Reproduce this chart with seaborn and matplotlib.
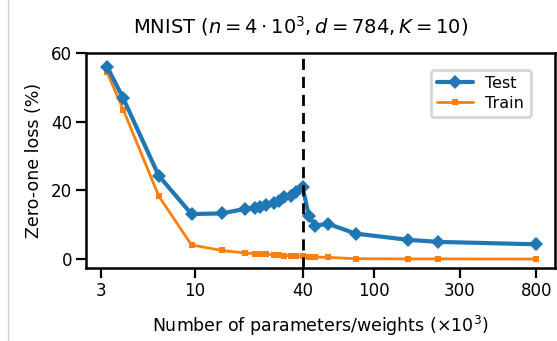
import matplotlib
matplotlib.use("Agg")
import matplotlib.pyplot as plt
import matplotlib.lines as mlines
import seaborn as sns
import pandas as pd

params = [3.25, 4.0, 6.3, 9.6, 14.2, 19, 21.8, 23.1, 25, 27.5, 29.5, 31.5, 34.4, 36.7, 40,
          43.2, 47, 55, 79, 155, 228, 800]
test_loss = [56.0, 46.8, 24.3, 13.1, 13.3, 14.6, 15.0, 15.3, 15.7, 16.2, 17.0, 18.0, 18.4, 19.4, 20.9,
             12.6, 9.7, 10.3, 7.4, 5.6, 5.0, 4.3]
train_loss = [54.4, 43.5, 18.4, 4.1, 2.5, 1.8, 1.6, 1.5, 1.4, 1.3, 1.1, 1.0, 1.0, 0.9, 0.9,
              0.7, 0.6, 0.5, 0.1, 0.05, 0.05, 0.0]
xticks = [3, 10, 40, 100, 300, 800]
yticks = [0, 20, 40, 60]
threshold = 40

sns.set_style("ticks")
plt.rcParams['font.family'] = ['DejaVu Sans']
plt.rcParams['text.color'] = 'black'
plt.rcParams['axes.labelcolor'] = 'black'
plt.rcParams['xtick.color'] = 'black'
plt.rcParams['ytick.color'] = 'black'

df_test = pd.DataFrame({"x": params, "y": test_loss})
df_train = pd.DataFrame({"x": params, "y": train_loss})

fig = plt.figure(figsize=(5.57, 3.41), dpi=100)
ax = fig.add_axes([86/557, 1-268/341, (555-86)/557, (268-53)/341])

sns.lineplot(data=df_test, x="x", y="y", ax=ax, color="#1f77b4", lw=3, marker="D",
             markersize=7, markeredgewidth=0, label="Test", zorder=3)
sns.lineplot(data=df_train, x="x", y="y", ax=ax, color="#ff7f0e", lw=2, marker="s",
             markersize=4, markeredgewidth=0, label="Train", zorder=2)
ax.axvline(threshold, color="black", ls=(0, (4, 2.5)), lw=2, zorder=4)

ax.set_xscale("log")
ax.set_xlim(2.48, 1017)
ax.set_ylim(-2.6, 60)
ax.set_xticks(xticks)
ax.set_xticklabels([str(t) for t in xticks])
ax.minorticks_off()
ax.set_yticks(yticks)
ax.tick_params(axis="both", labelsize=12, length=7, width=1.6, direction="out", pad=3,
               colors="black")
for s in ax.spines.values():
    s.set_linewidth(1.8)
    s.set_color("black")

ax.set_xlabel(r"Number of parameters/weights ($\times 10^3$)", fontsize=12.5, labelpad=10,
              color="black")
ax.set_ylabel("Zero-one loss (%)", fontsize=12.5, labelpad=6, color="black")
ax.set_title(r"MNIST ($n = 4\cdot 10^3, d = 784, K = 10$)", fontsize=14, x=0.458, pad=14,
             color="black")

leg = ax.legend(loc="upper right", bbox_to_anchor=(0.965, 0.96), fontsize=11.5,
                frameon=True, fancybox=True, framealpha=0.8, handlelength=2.2,
                borderpad=0.4, labelspacing=0.3)
leg.get_frame().set_edgecolor("#cccccc")
leg.get_frame().set_linewidth(2)
for t in leg.get_texts():
    t.set_color("black")

fig.add_artist(mlines.Line2D([8/557, 8/557], [0, 1], color="#d0d0d0", lw=1, transform=fig.transFigure))

fig.savefig("out.png", dpi=100)
